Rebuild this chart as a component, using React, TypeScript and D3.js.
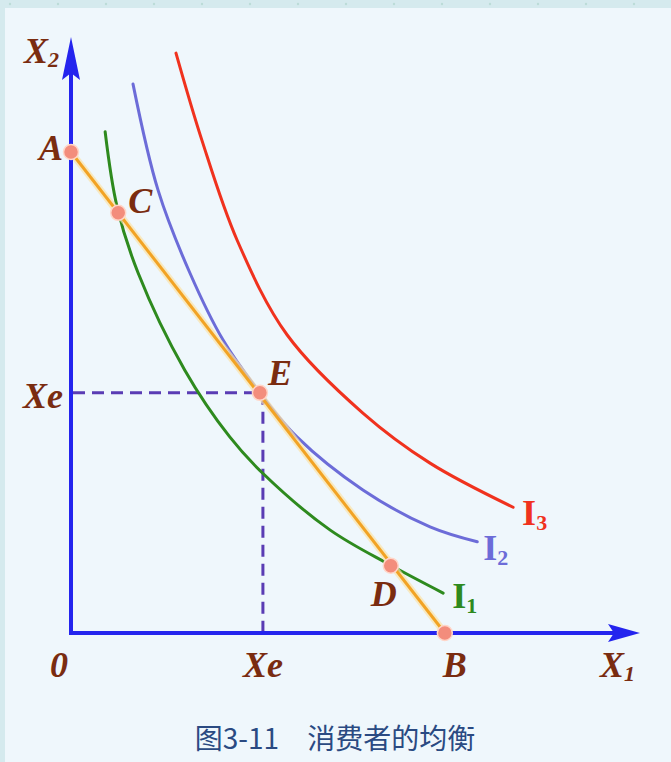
import React from "react";
import * as d3 from "d3";

// ---- data (chart units: 0..100 on each axis) ----
const budgetLine: [number, number][] = [
  [0, 80.7],
  [65.7, 0],
];
const indiff1: [number, number][] = [
  [6.0, 84.1], [8.1, 71.5], [11.8, 60.4], [20.0, 44.1], [27.9, 32.9],
  [33.7, 26.8], [45.5, 17.3], [56.1, 11.4], [65.4, 6.7],
];
const indiff2: [number, number][] = [
  [10.9, 92.1], [15.3, 74.3], [20.9, 60.4], [26.7, 49.2], [33.2, 40.3],
  [39.7, 32.9], [51.3, 24.0], [63.1, 17.8], [71.4, 15.3],
];
const indiff3: [number, number][] = [
  [18.45, 97.3], [23.0, 82.7], [29.2, 65.9], [38.0, 50.0], [51.3, 36.9],
  [63.1, 28.5], [77.7, 21.1],
];
const pointNames = ["A", "C", "E", "D", "B"];
const pointValues: [number, number][] = [
  [0, 80.7], [8.3, 70.5], [33.2, 40.3], [56.2, 11.3], [65.7, 0],
];
const curveNames = ["1", "2", "3"];
const equilibrium: [number, number] = [33.2, 40.3];
const caption = "图3-11　消费者的均衡";

// ---- styling / layout ----
const W = 671;
const H = 762;
const labelColor = "#7a2c10";
const axisColor = "#2424ee";
const curveColors = ["#2e8a1e", "#6c6cd8", "#f0321e"];
const serif = "'Liberation Serif', 'DejaVu Serif', serif";

export default function App() {
  const x = d3.scaleLinear().domain([0, 100]).range([71, 640]);
  const y = d3.scaleLinear().domain([0, 100]).range([633, 37]);

  const line = d3
    .line<[number, number]>()
    .x((d) => x(d[0]))
    .y((d) => y(d[1]));
  const smooth = d3
    .line<[number, number]>()
    .x((d) => x(d[0]))
    .y((d) => y(d[1]))
    .curve(d3.curveCatmullRom.alpha(0.5));

  const curves = [indiff1, indiff2, indiff3];

  const ox = x(0);
  const oy = y(0);
  const xt = x(100);
  const yt = y(100);

  const pointLabelPos: Record<string, [number, number, string]> = {
    A: [-8, 8, "end"],
    C: [10, 0, "start"],
    E: [8, -8, "start"],
    D: [-20, 40, "start"],
    B: [-2, 44, "start"],
  };
  const curveLabelPos: [number, number][] = [
    [9, 15],
    [6, 18],
    [9, 18],
  ];

  const ex = x(equilibrium[0]);
  const ey = y(equilibrium[1]);

  return (
    <svg
      width={W}
      height={H}
      style={{ position: "absolute", left: 0, top: 0, display: "block" }}
    >
      <rect x={0} y={0} width={W} height={H} fill="#d5eaee" />
      <rect x={5} y={8} width={W - 5} height={H - 8} fill="#eff7fc" />
      {d3.range(10, W, 48).map((px) => (
        <circle key={px} cx={px} cy={4} r={1.2} fill="#bcdcd8" />
      ))}

      {/* axes */}
      <line x1={ox} y1={oy} x2={xt - 20} y2={oy} stroke={axisColor} strokeWidth={4} />
      <line x1={ox} y1={oy + 2} x2={ox} y2={yt + 20} stroke={axisColor} strokeWidth={4} />
      <path
        d={`M${xt},${oy} L${xt - 32},${oy - 9} L${xt - 26},${oy} L${xt - 32},${oy + 9} Z`}
        fill={axisColor}
      />
      <path
        d={`M${ox},${yt} L${ox - 9},${yt + 43} L${ox},${yt + 36} L${ox + 9},${yt + 43} Z`}
        fill={axisColor}
      />

      {/* dashed guides */}
      <line x1={ox + 2} y1={ey} x2={ex} y2={ey} stroke="#5a3cb4" strokeWidth={3} strokeDasharray="12 7" />
      <line x1={ex + 3} y1={ey} x2={ex + 3} y2={oy - 2} stroke="#5a3cb4" strokeWidth={3} strokeDasharray="12 7" />

      {/* indifference curves */}
      {curves.map((c, i) => (
        <path
          key={i}
          d={smooth(c) || ""}
          fill="none"
          stroke={curveColors[i]}
          strokeWidth={3}
          strokeLinecap="round"
        />
      ))}

      {/* budget line */}
      <path d={line(budgetLine) || ""} fill="none" stroke="#fbe3a8" strokeWidth={7} opacity={0.7} />
      <path d={line(budgetLine) || ""} fill="none" stroke="#f2a324" strokeWidth={3} />

      {/* points */}
      {pointValues.map((p, i) => (
        <circle
          key={pointNames[i]}
          cx={x(p[0])}
          cy={y(p[1])}
          r={7.5}
          fill="#f38d7c"
          stroke="#ffd6c8"
          strokeWidth={1.5}
        />
      ))}
      {pointValues.map((p, i) => {
        const pos = pointLabelPos[pointNames[i]];
        return (
          <text
            key={"l" + pointNames[i]}
            x={x(p[0]) + pos[0]}
            y={y(p[1]) + pos[1]}
            textAnchor={pos[2] as any}
            fontFamily={serif}
            fontWeight="bold"
            fontStyle="italic"
            fontSize={36}
            fill={labelColor}
          >
            {pointNames[i]}
          </text>
        );
      })}

      {/* curve labels */}
      {curves.map((c, i) => {
        const last = c[c.length - 1];
        const lx = x(last[0]) + curveLabelPos[i][0];
        const ly = y(last[1]) + curveLabelPos[i][1];
        return (
          <text
            key={"c" + i}
            x={lx}
            y={ly}
            fontFamily={serif}
            fontWeight="bold"
            fontSize={36}
            fill={curveColors[i]}
          >
            I
            <tspan fontSize={22} dy={5}>
              {curveNames[i]}
            </tspan>
          </text>
        );
      })}

      {/* axis labels */}
      <text x={24} y={63} fontFamily={serif} fontWeight="bold" fontStyle="italic" fontSize={36} fill={labelColor}>
        X<tspan fontSize={22} dy={4}>2</tspan>
      </text>
      <text x={600} y={677} fontFamily={serif} fontWeight="bold" fontStyle="italic" fontSize={36} fill={labelColor}>
        X<tspan fontSize={22} dy={4}>1</tspan>
      </text>
      <text x={ox - 12} y={677} textAnchor="middle" fontFamily={serif} fontWeight="bold" fontStyle="italic" fontSize={36} fill={labelColor}>
        0
      </text>
      <text x={ex + 3} y={677} textAnchor="middle" fontFamily={serif} fontWeight="bold" fontStyle="italic" fontSize={36} fill={labelColor}>
        Xe
      </text>
      <text x={ox - 8} y={ey + 15} textAnchor="end" fontFamily={serif} fontWeight="bold" fontStyle="italic" fontSize={36} fill={labelColor}>
        Xe
      </text>

      {/* caption */}
      <text
        x={335}
        y={749}
        textAnchor="middle"
        fontFamily="'Noto Sans CJK SC', sans-serif"
        fontSize={28}
        fill="#2a4a82"
      >
        {caption}
      </text>
    </svg>
  );
}
